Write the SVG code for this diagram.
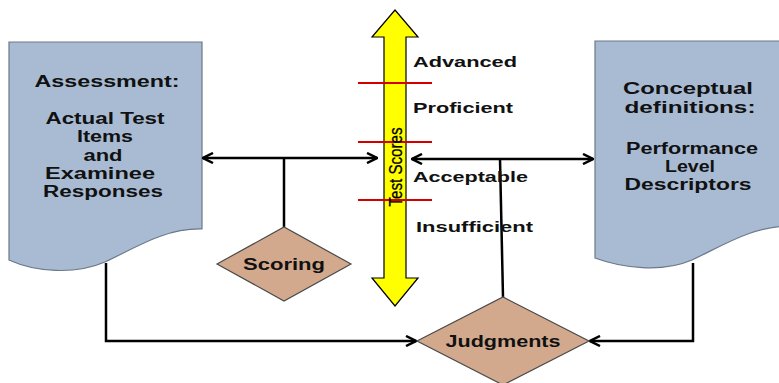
<svg xmlns="http://www.w3.org/2000/svg" width="779" height="383" viewBox="0 0 779 383">
<style>
.doc{fill:#a8bbd3;stroke:#6b7889;stroke-width:1.2}
.dia{fill:#d3a98d;stroke:#4a4a4a;stroke-width:1.2}
.t{font-family:"Liberation Sans",Arial,sans-serif;font-weight:bold;fill:#111;text-anchor:middle}
.l{font-family:"Liberation Sans",Arial,sans-serif;font-weight:bold;fill:#111;font-size:15px}
.c{fill:none;stroke:#000;stroke-width:2.5}
.red{stroke:#d40000;stroke-width:1.8}
</style>
<defs>
<marker id="ah" viewBox="0 0 12 12" refX="11" refY="6" markerWidth="12" markerHeight="12" markerUnits="userSpaceOnUse" orient="auto-start-reverse">
<path d="M1,1 L11,6 L1,11" fill="none" stroke="#000" stroke-width="2.5"/>
</marker>
</defs>

<g id="assessment">
<path class="doc" d="M9,42 H202 V229 C165,228 135,248 105,262 C75,275 35,272 9,260 Z"/>
<text class="t" font-size="17" x="107" y="87" textLength="145" lengthAdjust="spacingAndGlyphs">Assessment:</text>
<text class="t" font-size="16" x="105" y="124" textLength="119" lengthAdjust="spacingAndGlyphs">Actual Test</text>
<text class="t" font-size="16" x="105" y="142" textLength="56" lengthAdjust="spacingAndGlyphs">Items</text>
<text class="t" font-size="16" x="103" y="161" textLength="39" lengthAdjust="spacingAndGlyphs">and</text>
<text class="t" font-size="16" x="100" y="179" textLength="110" lengthAdjust="spacingAndGlyphs">Examinee</text>
<text class="t" font-size="16" x="103" y="197" textLength="120" lengthAdjust="spacingAndGlyphs">Responses</text>
</g>

<g id="conceptual">
<path class="doc" d="M595,41 H790 V226 C752,226 722,246 692,260 C662,273 622,268 595,258 Z"/>
<text class="t" font-size="17" x="688" y="94" textLength="130" lengthAdjust="spacingAndGlyphs">Conceptual</text>
<text class="t" font-size="17" x="690" y="113" textLength="131" lengthAdjust="spacingAndGlyphs">definitions:</text>
<text class="t" font-size="16" x="692" y="154" textLength="132" lengthAdjust="spacingAndGlyphs">Performance</text>
<text class="t" font-size="16" x="690" y="172" textLength="50" lengthAdjust="spacingAndGlyphs">Level</text>
<text class="t" font-size="16" x="688" y="190" textLength="127" lengthAdjust="spacingAndGlyphs">Descriptors</text>
</g>

<g id="connectors">
<line class="c" x1="203" y1="158" x2="377" y2="158" marker-start="url(#ah)" marker-end="url(#ah)"/>
<line class="c" x1="284" y1="227" x2="284" y2="158"/>
<line class="c" x1="412" y1="159" x2="593" y2="159" marker-start="url(#ah)" marker-end="url(#ah)"/>
<line class="c" x1="503" y1="297" x2="500" y2="159"/>
<path class="c" d="M106,263 V341 H416" marker-end="url(#ah)"/>
<path class="c" d="M693,263 V341 H590" marker-end="url(#ah)"/>
</g>

<g id="test-scores">
<polygon points="395,10 418,37 406,37 406,278 418,278 395,306 372,278 384,278 384,37 372,37" fill="#ffff00" stroke="#000" stroke-width="1.2"/>
<line class="red" x1="358" y1="83" x2="432" y2="83"/>
<line class="red" x1="358" y1="142" x2="432" y2="142"/>
<line class="red" x1="358" y1="200" x2="432" y2="200"/>
<text font-family="'Liberation Sans',Arial,sans-serif" font-size="18" fill="#000" stroke="#000" stroke-width="0.3" text-anchor="middle" transform="translate(402,167) rotate(-90)" textLength="79" lengthAdjust="spacingAndGlyphs">Test Scores</text>
</g>

<g id="levels">
<text class="l" x="413" y="67" textLength="104" lengthAdjust="spacingAndGlyphs">Advanced</text>
<text class="l" x="413" y="113" textLength="100" lengthAdjust="spacingAndGlyphs">Proficient</text>
<text class="l" x="413" y="182" textLength="115" lengthAdjust="spacingAndGlyphs">Acceptable</text>
<text class="l" x="416" y="232" textLength="117" lengthAdjust="spacingAndGlyphs">Insufficient</text>
</g>

<g id="scoring">
<polygon class="dia" points="217,264 284,227 351,264 284,301"/>
<text class="t" font-size="16" x="284" y="270" textLength="82" lengthAdjust="spacingAndGlyphs">Scoring</text>
</g>

<g id="judgments">
<polygon class="dia" points="417,341 503,297 589,341 503,385"/>
<text class="t" font-size="16" x="503" y="347" textLength="115" lengthAdjust="spacingAndGlyphs">Judgments</text>
</g>
</svg>
